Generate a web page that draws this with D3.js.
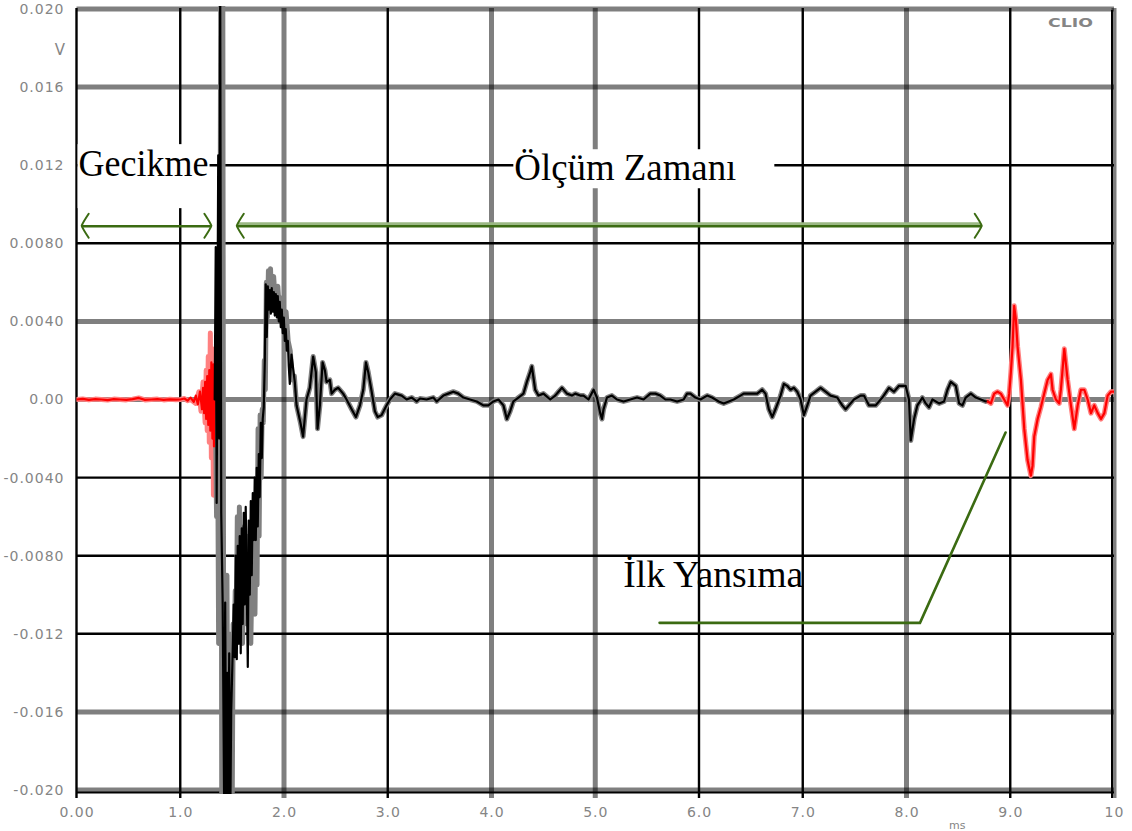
<!DOCTYPE html>
<html>
<head>
<meta charset="utf-8">
<script src="https://cdn.jsdelivr.net/npm/d3@7"></script>
<style>
  html, body { margin: 0; padding: 0; background: #fff; }
  svg { display: block; }
</style>
</head>
<body>
<svg id="chart" width="1132" height="831"></svg>
<script>
// ---------------- data ----------------
// Measured impulse response: [time (ms), amplitude (V)]
const traceSamples = [
  [0.00,0],[0.06,0.00003],[0.12,-0.00002],[0.18,0.00002],[0.24,0],[0.30,-0.00003],[0.36,0.00002],[0.42,0],
  [0.48,-0.00002],[0.54,0.00002],[0.60,0.00008],[0.66,-0.00002],[0.72,0],[0.78,0.00002],[0.84,-0.00002],
  [0.90,0.00001],[0.96,-0.00001],[1.00,0],[1.04,0.00005],[1.07,-0.00006],
  [1.10,0.0001],[1.13,-0.00012],[1.15,0.0002],[1.17,-0.00025],[1.19,0.0004],[1.21,-0.0005],[1.22,0.0006],
  [1.23,-0.0007],[1.24,0.0009],[1.25,-0.001],[1.26,0.0012],[1.27,-0.0013],[1.28,0.0015],[1.29,-0.0016],
  [1.30,0.0019],[1.31,-0.002],[1.32,0.0018],[1.325,-0.0024],[1.332,0],
  [1.342,0.0078],[1.351,-0.0053],[1.366,0.0125],[1.375,-0.002],[1.385,0.0215],[1.395,-0.0058],
  [1.409,-0.0105],[1.424,-0.0215],[1.433,-0.0104],[1.443,-0.0215],[1.453,-0.014],[1.462,-0.0215],
  [1.472,-0.013],[1.482,-0.0215],[1.491,-0.016],[1.506,-0.0128],[1.515,-0.0105],[1.525,-0.0132],
  [1.535,-0.008],[1.545,-0.0133],[1.554,-0.0075],[1.564,-0.0125],[1.573,-0.007],[1.583,-0.013],
  [1.593,-0.0066],[1.602,-0.0115],[1.612,-0.0058],[1.622,-0.0105],[1.631,-0.0055],[1.641,-0.0095],
  [1.651,-0.0137],[1.660,-0.0062],[1.670,-0.01],[1.680,-0.0052],[1.689,-0.009],[1.699,-0.0048],
  [1.709,-0.0072],[1.718,-0.004],[1.728,-0.0072],[1.737,-0.0035],[1.747,-0.0065],[1.757,-0.0028],
  [1.766,-0.005],[1.776,-0.0012],[1.786,-0.003],[1.795,-0.001],[1.805,-0.0004],[1.815,0.002],
  [1.824,0.0059],[1.834,0.0032],[1.844,0.0058],[1.853,0.0046],[1.863,0.0056],[1.873,0.0044],
  [1.882,0.0057],[1.892,0.0045],[1.902,0.0055],[1.911,0.0043],[1.921,0.0054],[1.931,0.0042],
  [1.940,0.0053],[1.950,0.004],[1.959,0.005],[1.969,0.0037],[1.979,0.0046],[1.988,0.0034],
  [1.998,0.0042],[2.008,0.003],[2.017,0.0036],[2.027,0.0025],[2.037,0.003],[2.046,0.0017],
  [2.056,0.0008],[2.072,0.0023],[2.104,0.0009],[2.121,-0.0003],[2.159,-0.0012],[2.184,-0.0019],
  [2.217,0],[2.249,0.0006],[2.281,0.0022],[2.307,0.0014],[2.323,-0.0015],[2.346,-0.0003],
  [2.372,0.0019],[2.394,0.0015],[2.410,0.0009],[2.442,0.001],[2.459,0.0003],[2.490,0.0005],
  [2.522,0.0006],[2.570,0.0003],[2.603,0],[2.652,-0.0005],[2.693,-0.0009],[2.732,-0.0003],
  [2.764,0.0005],[2.790,0.0019],[2.812,0.0014],[2.845,0.0004],[2.876,-0.0006],[2.903,-0.0009],
  [2.941,-0.0008],[2.989,-0.0003],[3.021,0],[3.069,0.0003],[3.134,0.0002],[3.182,0],[3.231,0.0001],
  [3.279,-0.0001],[3.311,0.00005],[3.375,0],[3.439,0.0001],[3.472,-0.0001],[3.536,0.0002],
  [3.584,0.0003],[3.632,0.0004],[3.680,0.0003],[3.729,0.0001],[3.793,0],[3.858,-0.0001],
  [3.922,-0.0003],[3.970,-0.0003],[4.018,-0.0001],[4.067,0],[4.115,-0.0003],[4.148,-0.001],
  [4.180,-0.0006],[4.211,-0.0001],[4.260,0.0001],[4.308,0.0003],[4.341,0.0009],[4.373,0.0014],
  [4.389,0.0017],[4.421,0.0005],[4.453,0.0002],[4.501,0.0003],[4.566,0],[4.614,0.0002],
  [4.646,0.0004],[4.679,0.0006],[4.727,0.0003],[4.775,0.0002],[4.807,0.0003],[4.855,0.0002],
  [4.887,0.0002],[4.935,0],[4.984,0.0005],[5.016,0.0001],[5.048,-0.0007],[5.065,-0.001],
  [5.080,-0.0005],[5.113,0.0001],[5.161,0.0002],[5.209,0],[5.273,-0.0001],[5.338,0],[5.403,0.0001],
  [5.466,0],[5.531,0.0003],[5.579,0.0003],[5.627,0.0002],[5.676,0],[5.724,0],[5.789,-0.0001],
  [5.852,0],[5.885,0.0003],[5.917,0.0003],[5.965,0.0001],[6.014,0],[6.078,0.0002],[6.126,0.0001],
  [6.190,-0.0001],[6.238,-0.0002],[6.287,-0.0001],[6.335,0],[6.400,0.0002],[6.431,0.0003],
  [6.496,0.0003],[6.561,0.0003],[6.609,0.0005],[6.641,0.0003],[6.673,-0.0005],[6.706,-0.0009],
  [6.737,-0.0005],[6.786,0.0002],[6.818,0.0008],[6.850,0.0007],[6.882,0.0005],[6.914,0.0006],
  [6.947,0.0004],[6.979,0],[7.011,-0.0008],[7.044,-0.0003],[7.075,0.0002],[7.124,0.0004],
  [7.172,0.0006],[7.220,0.0004],[7.268,0.0002],[7.333,0.0001],[7.381,-0.0003],[7.413,-0.0005],
  [7.445,-0.0003],[7.493,0],[7.558,0.0002],[7.590,0.0002],[7.638,-0.0003],[7.703,-0.0003],
  [7.767,0.0001],[7.831,0.0006],[7.879,0.0004],[7.928,0.0007],[7.992,0.0007],[8.024,0],
  [8.041,-0.0021],[8.073,-0.001],[8.105,-0.0003],[8.153,0.0001],[8.185,-0.0002],[8.217,-0.0004],
  [8.250,0],[8.314,-0.0002],[8.362,-0.0001],[8.395,0.0005],[8.427,0.0009],[8.475,0.0007],
  [8.507,-0.0002],[8.539,-0.0003],[8.571,0.0001],[8.620,0.0003],[8.668,0.0001],[8.716,0],
  [8.764,-0.0001],[8.784,-0.0001],
  [8.813,-0.0002],[8.845,0.0003],[8.877,0.0004],[8.909,0.0003],[8.941,0],[8.974,-0.0003],
  [8.990,0.0003],[9.006,0.0014],[9.022,0.0027],[9.038,0.0048],[9.054,0.0041],[9.071,0.0027],
  [9.103,0.001],[9.135,-0.0015],[9.167,-0.0031],[9.199,-0.0039],[9.215,-0.0034],[9.231,-0.0019],
  [9.264,-0.001],[9.295,-0.0004],[9.327,0.0003],[9.360,0.001],[9.392,0.0013],[9.408,0.0005],
  [9.440,0],[9.472,-0.0002],[9.488,0.0005],[9.521,0.0026],[9.553,0.001],[9.585,-0.0003],
  [9.617,-0.0015],[9.650,-0.0003],[9.681,0.0005],[9.714,0.0005],[9.746,0],[9.778,-0.0007],
  [9.810,-0.0003],[9.843,-0.0007],[9.875,-0.001],[9.907,-0.0007],[9.939,0.0002],[9.971,0.0004],
  [10.000,0.0004]
];

// Second (reference) measurement where it departs from the first, around the direct sound
const referenceOnset = [
  [1.10,0],[1.15,-0.0002],[1.18,0.0004],[1.20,-0.0006],[1.22,0.0009],[1.24,-0.0012],[1.25,0.0015],
  [1.26,-0.0016],[1.27,0.0022],[1.28,-0.0022],[1.29,0.0034],[1.30,-0.003],[1.31,0.0026],[1.32,-0.0049],
  [1.33,0.0005],[1.34,-0.001],[1.35,-0.006],[1.36,-0.0015],[1.37,-0.0125],[1.38,-0.003],[1.39,0.0215],
  [1.40,-0.0215],[1.41,0.0215],[1.42,-0.0215],[1.43,-0.013],[1.44,-0.0215],[1.45,-0.009],[1.46,-0.0215],
  [1.47,-0.012],[1.48,-0.0215],[1.49,-0.0135],[1.50,-0.0215],[1.51,-0.0115],[1.52,-0.013],[1.53,-0.0098],
  [1.54,-0.0125],[1.55,-0.006],[1.56,-0.012],[1.57,-0.0055],[1.58,-0.011],[1.59,-0.0075],[1.60,-0.0125],
  [1.62,-0.0065],[1.64,-0.0115],[1.66,-0.007],[1.68,-0.0125],[1.70,-0.006],[1.72,-0.011],[1.73,-0.006],
  [1.74,-0.0095],[1.75,-0.0015],[1.76,-0.007],[1.77,-0.0008],[1.78,-0.004],[1.79,-0.0005],[1.80,-0.0012],
  [1.81,0.002],[1.82,0.0005],[1.83,0.006],[1.84,0.0042],[1.85,0.0066],[1.86,0.0048],[1.87,0.0067],
  [1.88,0.005],[1.90,0.0063],[1.92,0.0047],[1.94,0.0058],[1.96,0.0042],[1.98,0.0052],[2.00,0.0036],
  [2.02,0.0045],[2.04,0.003],[2.06,0.0025],[2.08,0.001],[2.10,0.0012]
];

// Measurement window (ms): before = delay, after = first reflection
const windowStartMs = 1.332;
const windowEndMs = 8.784;

const xTicks = [0, 1, 2, 3, 4, 5, 6, 7, 8, 9, 10];
const xTickLabels = ["0.00", "1.0", "2.0", "3.0", "4.0", "5.0", "6.0", "7.0", "8.0", "9.0", "10"];
const yTicks = [0.020, 0.016, 0.012, 0.008, 0.004, 0, -0.004, -0.008, -0.012, -0.016, -0.020];
const yTickLabels = ["0.020", "0.016", "0.012", "0.0080", "0.0040", "0.00", "-0.0040", "-0.0080", "-0.012", "-0.016", "-0.020"];

// Grid lines drawn as wide grey bands (the rest are thin black)
const heavyGridX = [2, 4, 5, 8, 10];
const heavyGridY = [0.020, 0.016, 0.004, 0, -0.016, -0.020];

// Annotations (data units: ms, V)
const delayLabel = { text: "Gecikme", t: 0.02, v: 0.01144 };
const windowLabel = { text: "Ölçüm Zamanı", t: 4.22, v: 0.01123 };
const reflectionLabel = { text: "İlk Yansıma", t: 5.27, v: -0.00959 };
const arrowLevelV = 0.0089;
const delayArrowMs = [0.05, 1.30];
const windowArrowMs = [1.545, 8.725];
const reflectionLeader = [[5.62, -0.01144], [8.13, -0.01144], [8.955, -0.00169]];

// ---------------- drawing ----------------
const svg = d3.select("#chart");
const x = d3.scaleLinear().domain([0, 10]).range([76.5, 1114]);
const y = d3.scaleLinear().domain([-0.02, 0.02]).range([790, 9]);

const GREY = "#808080";
const GREEN = "#3b6b12";
const LABEL_GREY = "#858585";

// grid: horizontal lines first, vertical lines on top
const grid = svg.append("g");
grid.selectAll("line.h").data(yTicks).join("line")
  .attr("x1", x(0)).attr("x2", x(10))
  .attr("y1", d => y(d)).attr("y2", d => y(d))
  .attr("stroke", d => heavyGridY.includes(d) ? "rgba(0,0,0,0.5)" : "#000")
  .attr("stroke-width", d => heavyGridY.includes(d) ? 5 : 2.4);
// extra black rule under the bottom band
grid.append("line").attr("x1", x(0)).attr("x2", x(10)).attr("y1", y(-0.02) + 2.5).attr("y2", y(-0.02) + 2.5)
  .attr("stroke", "#000").attr("stroke-width", 2);
grid.selectAll("line.v").data(xTicks).join("line")
  .attr("x1", d => x(d)).attr("x2", d => x(d))
  .attr("y1", y(0.02) - 1).attr("y2", y(-0.02) + 8)
  .attr("stroke", d => heavyGridX.includes(d) ? "rgba(0,0,0,0.5)" : "#000")
  .attr("stroke-width", d => heavyGridX.includes(d) ? 5 : 2.4);
// black rule beside the right band
grid.append("line").attr("x1", x(10) - 2).attr("x2", x(10) - 2).attr("y1", y(0.02) + 1).attr("y2", y(-0.02) + 8)
  .attr("stroke", "#000").attr("stroke-width", 2);

// axes (labels only)
const axisFont = "14px 'DejaVu Sans', sans-serif";
svg.append("g")
  .attr("transform", `translate(${x(0)},0)`)
  .call(d3.axisLeft(y).tickValues(yTicks).tickFormat((d, i) => yTickLabels[i]).tickSize(0).tickPadding(12))
  .call(g => g.select(".domain").remove())
  .selectAll("text").attr("fill", LABEL_GREY).style("font", axisFont).attr("letter-spacing", "1px");

svg.append("g")
  .attr("transform", `translate(0,${y(-0.02)})`)
  .call(d3.axisBottom(x).tickValues(xTicks).tickFormat((d, i) => xTickLabels[i]).tickSize(0).tickPadding(17))
  .call(g => g.select(".domain").remove())
  .selectAll("text").attr("fill", LABEL_GREY).style("font", axisFont).attr("letter-spacing", "1px");

// unit labels and brand
svg.append("text").attr("x", 60).attr("y", 55).attr("text-anchor", "middle")
  .attr("fill", LABEL_GREY).style("font", "15px 'DejaVu Sans', sans-serif").text("V");
svg.append("text").attr("x", 949).attr("y", 829)
  .attr("fill", LABEL_GREY).style("font", "11px 'DejaVu Sans', sans-serif").text("ms");
svg.append("text").attr("x", 1048).attr("y", 27)
  .attr("fill", LABEL_GREY).style("font", "bold 12px 'DejaVu Sans', sans-serif")
  .attr("textLength", 45).attr("lengthAdjust", "spacingAndGlyphs").text("CLIO");

// region captions on white boxes
const captionFont = "38px 'Liberation Serif', 'Times New Roman', serif";
function caption(lbl, width, padL, padR, padT, padB) {
  const g = svg.append("g");
  const rect = g.append("rect").attr("fill", "#fff");
  const t = g.append("text")
    .attr("x", x(lbl.t)).attr("y", y(lbl.v))
    .style("font", captionFont).attr("fill", "#000")
    .attr("textLength", width).attr("lengthAdjust", "spacingAndGlyphs")
    .text(lbl.text);
  const b = t.node().getBBox();
  rect.attr("x", b.x - padL).attr("y", b.y + padT)
    .attr("width", b.width + padL + padR).attr("height", b.height - padT + padB);
}
caption(delayLabel, 130, 1, 1, 2, 24);
caption(windowLabel, 222, 1, 38, 3, 0);

// traces
svg.append("clipPath").attr("id", "plotClip")
  .append("rect").attr("x", x(0)).attr("y", 6).attr("width", x(10) - x(0)).attr("height", 788);

const refFirst = referenceOnset[0][0];
const refLast = referenceOnset[referenceOnset.length - 1][0];
const referenceSamples = [
  ...traceSamples.filter(p => p[0] < refFirst),
  ...referenceOnset,
  ...traceSamples.filter(p => p[0] > refLast)
];

function section(pts, a, b) {
  let i0 = pts.findIndex(p => p[0] >= a);
  if (i0 > 0 && pts[i0][0] > a) i0 -= 1;
  let i1 = pts.length - 1;
  while (i1 > 0 && pts[i1][0] > b) i1--;
  if (i1 < pts.length - 1 && pts[i1][0] < b) i1 += 1;
  return pts.slice(i0, i1 + 1);
}

const line = d3.line().x(d => x(d[0])).y(d => y(d[1]));
const traces = svg.append("g").attr("clip-path", "url(#plotClip)")
  .attr("fill", "none").attr("stroke-linejoin", "round").attr("stroke-linecap", "round");

function drawTrace(pts, width, inside, outside) {
  const parts = [
    [section(pts, 0, windowStartMs), outside],
    [section(pts, windowStartMs, windowEndMs), inside],
    [section(pts, windowEndMs, 10), outside]
  ];
  parts.forEach(([seg, col]) => {
    traces.append("path").attr("d", line(seg)).attr("stroke", col).attr("stroke-width", width);
  });
}
drawTrace(referenceSamples, 5, GREY, "#ff8080");
drawTrace(traceSamples, 2.2, "#000", "#ff0000");

// arrows
const ann = svg.append("g").attr("fill", "none").attr("stroke-linecap", "round");
function chevron(xTip, yy, dir) {
  const p = d3.path();
  p.moveTo(xTip + dir * 7, yy - 12);
  p.quadraticCurveTo(xTip + dir * 1, yy - 3, xTip, yy);
  p.quadraticCurveTo(xTip + dir * 1, yy + 3, xTip + dir * 7, yy + 12);
  ann.append("path").attr("d", p.toString()).attr("stroke", GREEN).attr("stroke-width", 2);
}
function arrow(span, band) {
  const yy = y(arrowLevelV), xa = x(span[0]), xb = x(span[1]);
  if (band) {
    ann.append("line").attr("x1", xa + 2).attr("x2", xb - 2).attr("y1", yy - 2).attr("y2", yy - 2)
      .attr("stroke", "#9bb884").attr("stroke-width", 3);
  }
  ann.append("line").attr("x1", xa + 1).attr("x2", xb - 1).attr("y1", yy + 0.5).attr("y2", yy + 0.5)
    .attr("stroke", GREEN).attr("stroke-width", 2.6);
  chevron(xa, yy, 1);
  chevron(xb, yy, -1);
}
arrow(delayArrowMs, false);
arrow(windowArrowMs, true);

// first-reflection leader and caption
ann.append("path").attr("d", line(reflectionLeader)).attr("stroke", GREEN).attr("stroke-width", 2.6);
svg.append("text")
  .attr("x", x(reflectionLabel.t)).attr("y", y(reflectionLabel.v))
  .style("font", captionFont).attr("fill", "#000")
  .attr("textLength", 180).attr("lengthAdjust", "spacingAndGlyphs")
  .text(reflectionLabel.text);
</script>
</body>
</html>
